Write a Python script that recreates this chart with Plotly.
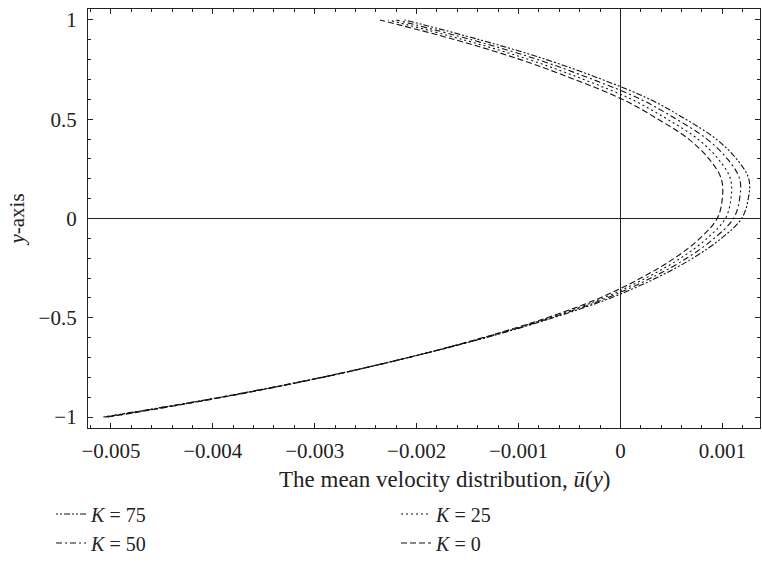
import plotly.graph_objects as go

y_vals = [-1.0, -0.9, -0.8, -0.7, -0.6, -0.5, -0.4, -0.3, -0.2, -0.1, 0.0,
          0.1, 0.2, 0.3, 0.4, 0.5, 0.6, 0.7, 0.8, 0.9, 1.0]

u_K0 = [-0.00503, -0.00390, -0.00292, -0.00208, -0.00135, -0.00072, -0.00020,
        0.00020, 0.00053, 0.00078, 0.00095, 0.00100, 0.00099, 0.00087, 0.00067,
        0.00037, 0.00002, -0.00045, -0.00098, -0.00162, -0.00236]
u_K25 = [-0.005045, -0.00391, -0.002925, -0.00208, -0.00134, -0.00070, -0.000165,
         0.00025, 0.00059, 0.00085, 0.00103, 0.001085, 0.00108, 0.00096, 0.00076,
         0.00046, 0.00011, -0.00036, -0.000895, -0.00154, -0.00228]
u_K50 = [-0.00506, -0.00392, -0.00293, -0.00208, -0.00133, -0.00068, -0.00013,
         0.00030, 0.00065, 0.00092, 0.00111, 0.00117, 0.00117, 0.00105, 0.00085,
         0.00055, 0.00020, -0.00027, -0.00081, -0.00146, -0.00220]
u_K75 = [-0.005075, -0.00393, -0.002935, -0.00208, -0.00132, -0.00066, -0.000095,
         0.00035, 0.00071, 0.00099, 0.00119, 0.001255, 0.00126, 0.00114, 0.00094,
         0.00064, 0.00029, -0.00018, -0.000725, -0.00138, -0.00212]

series_names = ["<i>K</i> = 75", "<i>K</i> = 25", "<i>K</i> = 50", "<i>K</i> = 0"]
series_data = [u_K75, u_K25, u_K50, u_K0]
series_dash = ["2px,2px,2px,2px,6px,2px", "2px,3px", "6px,3px,2px,3px", "6px,3px"]

x_tickvals = [-0.005, -0.004, -0.003, -0.002, -0.001, 0, 0.001]
x_ticktext = ["\u22120.005", "\u22120.004", "\u22120.003", "\u22120.002", "\u22120.001", "0", "0.001"]
y_tickvals = [-1, -0.5, 0, 0.5, 1]
y_ticktext = ["\u22121", "\u22120.5", "0", "0.5", "1"]
x_title = "The mean velocity distribution, <i>\u016b</i>(<i>y</i>)"
y_title = "<i>y</i>-axis"

FONT = "Liberation Serif"
FS = 21

fig = go.Figure()
for name, u, dash in zip(series_names, series_data, series_dash):
    fig.add_trace(go.Scatter(
        x=u, y=y_vals, mode="lines", name=name,
        line=dict(color="#111111", width=1.1, dash=dash, shape="spline", smoothing=1.0),
    ))

axis_common = dict(
    showline=True, linecolor="#222222", linewidth=1.3, mirror="ticks",
    ticks="inside", ticklen=5, tickcolor="#222222", tickwidth=1,
    showgrid=False, zeroline=True, zerolinecolor="#222222", zerolinewidth=1.3,
    tickfont=dict(family=FONT, size=FS, color="#222222"),
)

fig.update_layout(
    width=762, height=563,
    margin=dict(l=88, r=2, t=9, b=134),
    paper_bgcolor="white", plot_bgcolor="white",
    font=dict(family=FONT, size=FS, color="#222222"),
    xaxis=dict(
        range=[-0.005225, 0.00137], tickvals=x_tickvals, ticktext=x_ticktext,
        ticklabelstandoff=4,
        minor=dict(dtick=0.0002, ticks="inside", ticklen=3, tickcolor="#222222", showgrid=False),
        **axis_common,
    ),
    yaxis=dict(
        range=[-1.055, 1.055], tickvals=y_tickvals, ticktext=y_ticktext,
        ticklabelstandoff=6,
        minor=dict(dtick=0.1, ticks="inside", ticklen=3, tickcolor="#222222", showgrid=False),
        title=dict(text=y_title, font=dict(family=FONT, size=FS), standoff=8),
        **axis_common,
    ),
    annotations=[dict(
        text=x_title, xref="paper", yref="paper", x=0.531, y=-0.122,
        xanchor="center", yanchor="middle", showarrow=False,
        font=dict(family=FONT, size=23, color="#222222"),
    )],
    showlegend=True,
    legend=dict(
        orientation="h", x=-0.055, xanchor="left", y=-0.318, yanchor="bottom",
        entrywidth=300, entrywidthmode="pixels",
        font=dict(family=FONT, size=20), tracegroupgap=0,
        bgcolor="rgba(0,0,0,0)", itemwidth=30,
    ),
)

fig.write_html("out.html")
